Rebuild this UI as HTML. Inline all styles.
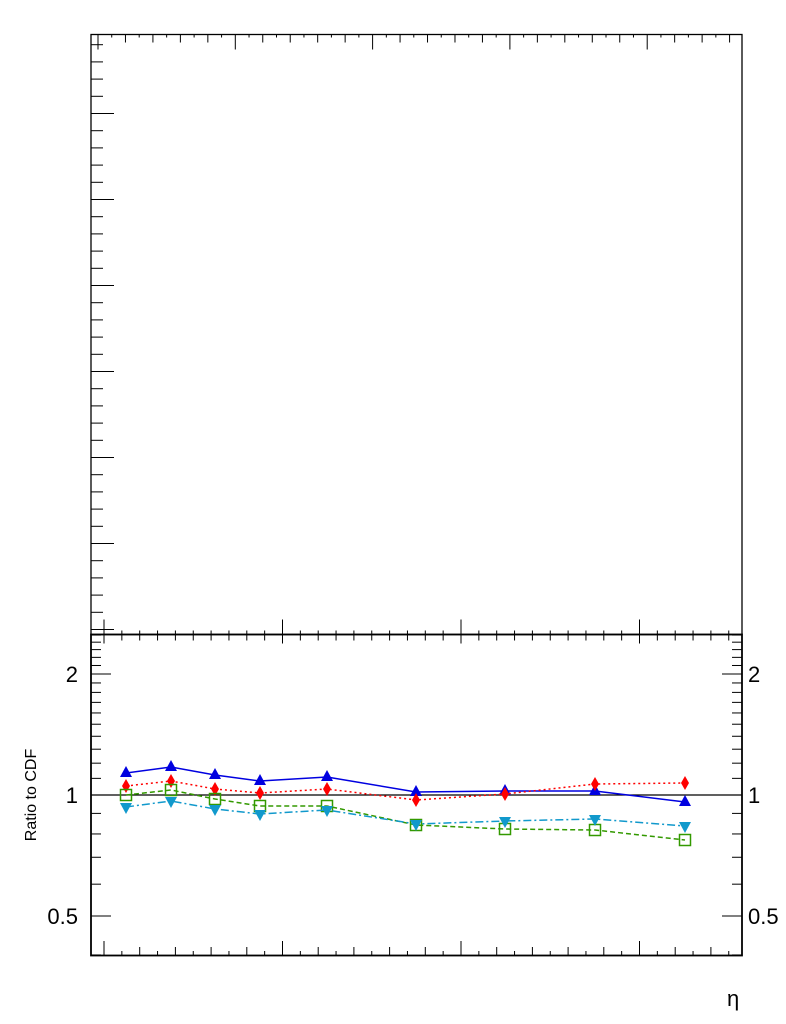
<!DOCTYPE html>
<html><head><meta charset="utf-8"><style>html,body{margin:0;padding:0;background:#fff}svg{display:block}</style></head>
<body>
<svg id="s" width="786" height="1024" viewBox="0 0 786 1024" xmlns="http://www.w3.org/2000/svg" font-family="Liberation Sans, sans-serif">
<rect x="0" y="0" width="786" height="1024" fill="#fff"/>
<g id="ax" stroke="#000" stroke-width="1" fill="none"></g>
<rect x="91" y="34.5" width="651" height="600" fill="none" stroke="#000" stroke-width="1.3"/>
<rect x="91" y="634.5" width="651" height="321" fill="none" stroke="#000" stroke-width="1.8"/>
<line x1="91" y1="795" x2="742" y2="795" stroke="#000" stroke-width="1.3"/>
<g font-size="22" fill="#000">
<text x="78" y="682" text-anchor="end">2</text>
<text x="78" y="803" text-anchor="end">1</text>
<text x="78" y="924" text-anchor="end">0.5</text>
<text x="748" y="682">2</text>
<text x="748" y="803">1</text>
<text x="748" y="924">0.5</text>
<text x="727" y="1006" font-size="22">η</text>
</g>
<text x="0" y="0" font-size="16" text-anchor="middle" transform="translate(36,795) rotate(-90)">Ratio to CDF</text>
<g id="data"></g>
</svg>
<script>
var ax=document.getElementById('ax'),h='';
function L(a,b,c,d){h+='<line x1="'+a+'" y1="'+b+'" x2="'+c+'" y2="'+d+'"/>';}
for(var i=0;i<=47;i++){var x=98+i*13.73;if(x>741)break;var m=i%10==0?15:(i%2==0?8:3);L(x,34.5,x,34.5+m);}
for(var i=0;;i++){var y=113.5+ (i-4)*17.2; if(y>634)break; if(y<35)continue; var m=(i%5==4)?23:12; L(91,y,91+m,y);}
for(var i=-1;i<=36;i++){var x=104+i*17.85;if(x<92||x>741)continue;
 L(x,634.5-(i%10==0?15:4),x,634.5+(i%10==0?9:6));
 L(x,955,x,955-(i%10==0?14:(i%2==0?8:4)));}
for(var v=0.4;v<=2.51;v+=0.1){var vv=Math.round(v*10)/10;var y=795-121*Math.log2(vv);if(y<635||y>955)continue;
 var maj=(vv==0.5||vv==1||vv==2);var m=maj?20:10; L(91,y,91+m,y); L(742,y,742-m,y);}
ax.innerHTML=h;
var X=[126,171,215,260,327,416,505,595,685];
var S=[
 {c:'#0000e0',y:[773,767,775,781,777,792,791,791,802],d:'',m:'tri'},
 {c:'#ff0000',y:[786,781,789,793,789,800,794,784,783],d:'2,3',m:'dia'},
 {c:'#339900',y:[795,790,799,806,806,825,829,830,840],d:'5,3',m:'sq'},
 {c:'#1199cc',y:[807,801,809,814,810,824,821,819,826],d:'8,3,2,3',m:'itri'}];
var g='';
S.forEach(function(s){var p=X.map(function(x,i){return x+','+s.y[i]}).join(' ');
 g+='<polyline points="'+p+'" fill="none" stroke="'+s.c+'" stroke-width="1.5"'+(s.d?' stroke-dasharray="'+s.d+'"':'')+'/>';
 X.forEach(function(x,i){var y=s.y[i];
  if(s.m=='tri')g+='<polygon points="'+x+','+(y-7)+' '+(x-6)+','+(y+4)+' '+(x+6)+','+(y+4)+'" fill="'+s.c+'"/>';
  if(s.m=='itri')g+='<polygon points="'+x+','+(y+7)+' '+(x-6)+','+(y-4)+' '+(x+6)+','+(y-4)+'" fill="'+s.c+'"/>';
  if(s.m=='dia')g+='<polygon points="'+x+','+(y-7)+' '+(x-4)+','+y+' '+x+','+(y+7)+' '+(x+4)+','+y+'" fill="'+s.c+'"/>';
  if(s.m=='sq')g+='<rect x="'+(x-5.5)+'" y="'+(y-5.5)+'" width="11" height="11" fill="none" stroke="'+s.c+'" stroke-width="1.5"/>';
 });});
document.getElementById('data').innerHTML=g;
</script>
</body></html>
